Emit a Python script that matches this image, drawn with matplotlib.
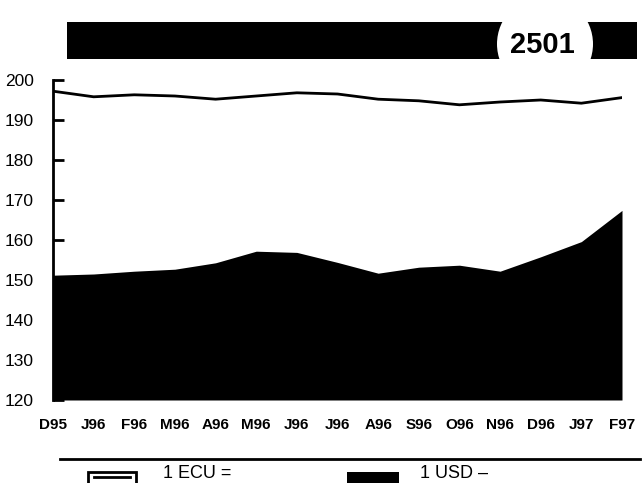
import matplotlib
matplotlib.use("Agg")
import matplotlib.pyplot as plt
from matplotlib.patches import Rectangle, Ellipse
from matplotlib.lines import Line2D

plt.rcParams['font.family'] = ['Liberation Sans', 'DejaVu Sans']

months = ["D95", "J96", "F96", "M96", "A96", "M96", "J96", "J96", "A96",
          "S96", "O96", "N96", "D96", "J97", "F97"]
ecu = [197.2, 195.8, 196.3, 196.0, 195.2, 196.0, 196.8, 196.5, 195.2,
       194.8, 193.8, 194.5, 195.0, 194.2, 195.6]
usd = [151.2, 151.5, 152.2, 152.7, 154.3, 157.2, 156.9, 154.4, 151.7,
       153.2, 153.7, 152.2, 155.8, 159.6, 167.4]
yticks = [120, 130, 140, 150, 160, 170, 180, 190, 200]
badge = "2501"
legend_labels = ["1 ECU =", "1 USD \u2013"]

W, H = 643, 483
fig = plt.figure(figsize=(W / 100, H / 100), dpi=100)

def fx(px):
    return px / W

def fy(py):
    return (H - py) / H

ax = fig.add_axes([fx(53), fy(400), fx(622) - fx(53), fy(80) - fy(400)])
x = list(range(len(months)))
ax.fill_between(x, yticks[0], usd, color="black", lw=0)
ax.plot(x, ecu, color="black", lw=2, solid_joinstyle="round")
ax.set_xlim(0, len(months) - 1)
ax.set_ylim(yticks[0], yticks[-1])
ax.set_yticks(yticks)
ax.set_yticklabels([str(v) for v in yticks], fontsize=12.5)
ax.set_xticks(x)
ax.set_xticklabels(months, fontsize=11, fontweight="bold")
ax.tick_params(axis="x", length=0, pad=13)
ax.tick_params(axis="y", direction="in", length=8, width=2, pad=14)
for s in ["top", "right", "bottom"]:
    ax.spines[s].set_visible(False)
ax.spines["left"].set_linewidth(2)
ax.set_facecolor("none")

# top banner
fig.add_artist(Rectangle((fx(67), fy(59)), fx(637) - fx(67), fy(22) - fy(59),
                         transform=fig.transFigure, color="black", lw=0))
fig.add_artist(Ellipse((fx(545), fy(44)), fx(96), 96 / H,
                       transform=fig.transFigure, facecolor="white",
                       edgecolor="none"))
fig.text(fx(542), fy(45), badge, fontsize=21, fontweight="bold",
         ha="center", va="center")

# legend area
fig.add_artist(Line2D([fx(60), fx(640)], [fy(459), fy(459)],
                      transform=fig.transFigure, color="black", lw=2))
fig.add_artist(Rectangle((fx(88), fy(490)), fx(48), 18 / H,
                         transform=fig.transFigure, facecolor="white",
                         edgecolor="black", lw=2))
fig.add_artist(Line2D([fx(94), fx(130)], [fy(477), fy(477)],
                      transform=fig.transFigure, color="black", lw=2))
fig.add_artist(Rectangle((fx(347), fy(490)), fx(52), 18 / H,
                         transform=fig.transFigure, color="black", lw=0))
fig.text(fx(163), fy(482), legend_labels[0], fontsize=13, va="bottom", ha="left")
fig.text(fx(420), fy(482), legend_labels[1], fontsize=13, va="bottom", ha="left")

fig.savefig("out.png", dpi=100)
